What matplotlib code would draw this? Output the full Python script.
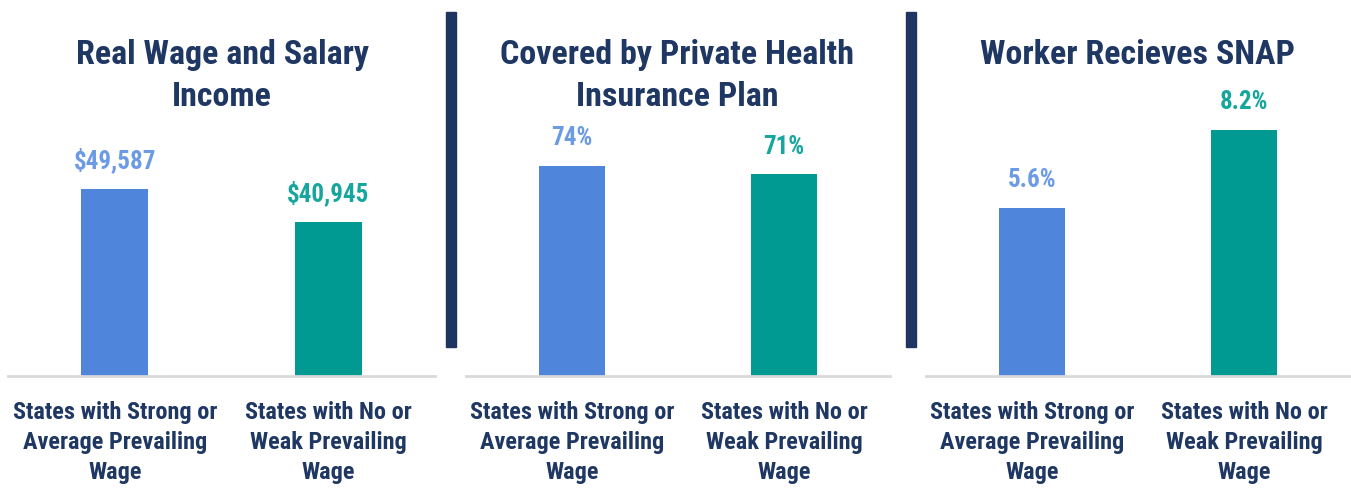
"""Prevailing wage comparison: three small bar panels."""

import matplotlib.pyplot as plt
from matplotlib.patches import Rectangle

plt.rcParams["font.family"] = ["Roboto Condensed", "DejaVu Sans"]
plt.rcParams["font.weight"] = "bold"

categories = [
    "States with Strong or\nAverage Prevailing\nWage",
    "States with No or\nWeak Prevailing\nWage",
]
titles = [
    "Real Wage and Salary\nIncome",
    "Covered by Private Health\nInsurance Plan",
    "Worker Recieves SNAP",
]
wage_income = [49587, 40945]
health_cover = [74, 71]
snap_share = [5.6, 8.2]
value_labels = [
    ["$49,587", "$40,945"],
    ["74%", "71%"],
    ["5.6%", "8.2%"],
]

BLUE = "#4F86DC"
TEAL = "#009A93"
BLUE_TXT = "#6C9BE6"
TEAL_TXT = "#17A69E"
NAVY = "#1F3763"

W, H = 1351, 489
fig = plt.figure(figsize=(W / 100, H / 100), dpi=100)

# panel geometry in pixels: (left, width), baseline at y=377, top at y=100
panels = [(8, 427), (466, 424), (926, 424)]
ymaxes = [73452, 97.6, 9.23]
series = [wage_income, health_cover, snap_share]
title_x = [222, 677, 1137]

for (left, width), vals, ymax, labels, title, tx in zip(
    panels, series, ymaxes, value_labels, titles, title_x
):
    ax = fig.add_axes([left / W, 1 - 377 / H, width / W, 277 / H])
    ax.bar([0, 1], vals, width=0.313, color=[BLUE, TEAL])
    ax.set_xlim(-0.5, 1.5)
    ax.set_ylim(0, ymax)
    for i, (v, lab) in enumerate(zip(vals, labels)):
        ax.annotate(
            lab, (i, v), xytext=(0, 12), textcoords="offset points",
            ha="center", va="bottom", fontsize=18,
            color=BLUE_TXT if i == 0 else TEAL_TXT,
        )
    ax.set_xticks([0, 1])
    ax.set_xticklabels(categories, fontsize=17.5, color=NAVY, linespacing=1.4)
    ax.tick_params(axis="x", length=0, pad=17)
    ax.set_yticks([])
    for s in ["top", "right", "left"]:
        ax.spines[s].set_visible(False)
    ax.spines["bottom"].set_color("#D9D9D9")
    ax.spines["bottom"].set_linewidth(2)
    fig.text(tx / W, 1 - 39 / H, title, ha="center", va="top",
             fontsize=24.5, color=NAVY, linespacing=1.4)

# dark vertical separators between panels
for x in [446, 906]:
    fig.add_artist(Rectangle((x / W, 1 - 348 / H), 10 / W, 335 / H,
                             transform=fig.transFigure, color="#1F3561"))

fig.savefig("out.png", dpi=100)
